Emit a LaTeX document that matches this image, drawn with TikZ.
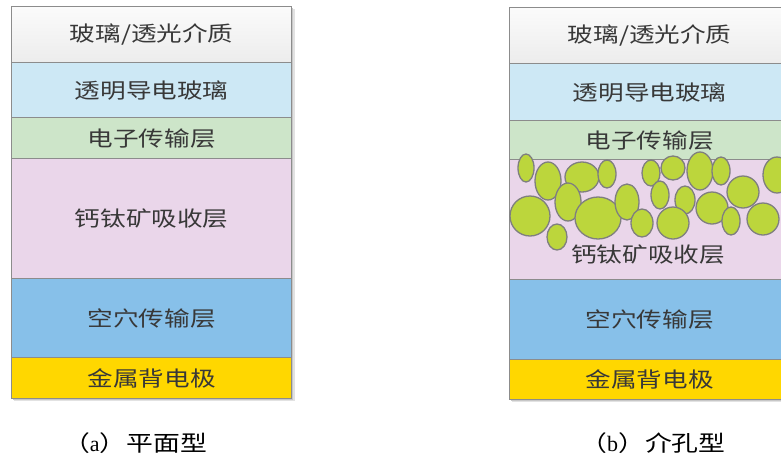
\documentclass[tikz,border=0pt]{standalone}
\usepackage{fontspec}
\setmainfont{Liberation Serif}
\newfontfamily\cjk[FakeStretch=1.22]{Noto Sans CJK SC}
\usetikzlibrary{positioning}

\definecolor{edgegray}{HTML}{8C8C8C}
\definecolor{txtgray}{HTML}{383838}
\definecolor{glasstop}{HTML}{FBFBFB}
\definecolor{glassbot}{HTML}{ECECEC}
\definecolor{itoblue}{HTML}{CDE8F5}
\definecolor{etlgreen}{HTML}{CDE5C9}
\definecolor{pvkpink}{HTML}{EAD6EA}
\definecolor{htlblue}{HTML}{87C0E9}
\definecolor{metalgold}{HTML}{FFD700}
\definecolor{poregreen}{HTML}{BCD63C}
\definecolor{poreedge}{HTML}{7F7F7F}

\tikzset{
  layertext/.style={text=txtgray, font=\cjk\fontsize{21}{23}\selectfont},
  layer/.style={draw=edgegray, line width=1.4pt, minimum width=280pt,
    inner sep=0pt, anchor=north west, layertext},
  glass/.style={layer, top color=glasstop, bottom color=glassbot},
  stackshadow/.style={fill=black!22, draw=none},
  pore/.style={fill=poregreen, draw=poreedge, line width=1.3pt},
  caption/.style={text=black, font=\fontsize{22}{24}\selectfont, inner sep=0pt}
}

\begin{document}
\begin{tikzpicture}[x=1pt, y=-1pt]
\useasboundingbox (0,0) rectangle (781,461);
\clip (0,0) rectangle (781,461);
\fill[white] (0,0) rectangle (781,461);

% soft drop shadows behind both stacks
\fill[stackshadow, opacity=0.5] (14,9) rectangle (295,401);
\fill[stackshadow] (13,8) rectangle (293,400);
\fill[stackshadow, opacity=0.5] (512,10) rectangle (793,402);
\fill[stackshadow] (511,9) rectangle (791,401);

% (a) planar stack
\node[glass, minimum height=56pt] (a1) at (11,6) {玻璃/透光介质};
\node[layer, fill=itoblue, minimum height=55pt] (a2) at (11,62) {透明导电玻璃};
\node[layer, fill=etlgreen, minimum height=41pt] (a3) at (11,117) {电子传输层};
\node[layer, fill=pvkpink, minimum height=120pt] (a4) at (11,158) {钙钛矿吸收层};
\node[layer, fill=htlblue, minimum height=79pt] (a5) at (11,278) {空穴传输层};
\node[layer, fill=metalgold, minimum height=41pt] (a6) at (11,357) {金属背电极};

% (b) mesoporous stack
\node[glass, minimum height=56pt] (b1) at (509,7) {玻璃/透光介质};
\node[layer, fill=itoblue, minimum height=57pt] (b2) at (509,63) {透明导电玻璃};
\node[layer, fill=etlgreen, minimum height=39pt] (b3) at (509,120) {电子传输层};
\node[layer, fill=pvkpink, minimum height=120pt] (b4) at (509,159) {};
\node[layer, fill=htlblue, minimum height=80pt] (b5) at (509,279) {空穴传输层};
\node[layer, fill=metalgold, minimum height=40pt] (b6) at (509,359) {金属背电极};

% mesoporous scaffold particles
\foreach \cx/\cy/\rx/\ry in {
  526/168/8/14, 548/181/13/19, 582/177/17/15, 607/174/9/14,
  568/202/13/19, 530/216/20/20, 557/237/10/13, 598/218/23/21,
  627/202/12/18, 642/223/11/14, 651/173/9/13, 673/168/12/12,
  700/171/13/19, 721/171/9/14, 743/192/16/16, 777/175/14/18,
  660/195/9/14, 685/200/10/14, 712/208/16/16, 673/223/16/16,
  731/221/9/14, 763/219/16/16}
  \draw[pore] (\cx,\cy) ellipse [x radius=\rx pt, y radius=\ry pt];

\node[layertext, inner sep=0pt] (b4label) at (648,255) {钙钛矿吸收层};

% captions
\node[caption] (capa) at (135,443) {\cjk（\rmfamily a\cjk）平面型};
\node[caption] (capb) at (653,443) {\cjk（\rmfamily b\cjk）介孔型};
\end{tikzpicture}
\end{document}
